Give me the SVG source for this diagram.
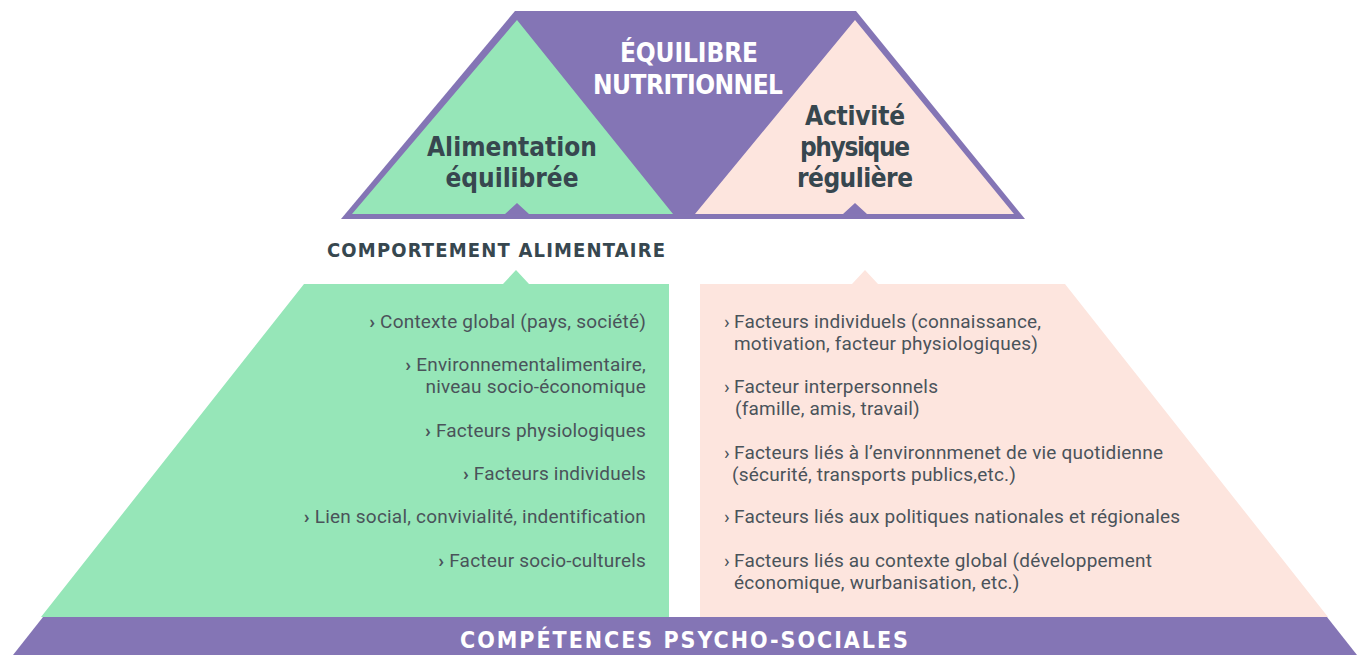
<svg xmlns="http://www.w3.org/2000/svg" width="1363" height="655" viewBox="0 0 1363 655">
  <style>
    .purple { fill: #8475b5; }
    .green { fill: #96e6b8; }
    .pink { fill: #fde5de; }
    .head { font-family: "DejaVu Sans Condensed", "DejaVu Sans", sans-serif; font-stretch: condensed; font-weight: bold; }
    .white { fill: #ffffff; }
    .dark { fill: #37474f; }
    .item { font-family: Roboto, "Liberation Sans", sans-serif; font-size: 19px; letter-spacing: 0.2px; fill: #4a535a; }
    .bul { font-weight: bold; }
  </style>
  <rect width="1363" height="655" fill="#ffffff"/>

  <!-- top: nutritional balance -->
  <g id="equilibre">
    <polygon class="purple" points="515,11 856,11 1025,219 341,219"/>
    <text class="head white" font-size="26" text-anchor="middle" x="689" y="62" textLength="138" lengthAdjust="spacing">ÉQUILIBRE</text>
    <text class="head white" font-size="26" text-anchor="middle" x="688" y="94" textLength="190" lengthAdjust="spacing">NUTRITIONNEL</text>
  </g>

  <g id="alimentation">
    <polygon class="green" points="517,20 673,214 529,214 517,203 505,214 352,214"/>
    <text class="head dark" font-size="26" text-anchor="middle" x="512" y="156" textLength="170" lengthAdjust="spacing">Alimentation</text>
    <text class="head dark" font-size="26" text-anchor="middle" x="512" y="187" textLength="133" lengthAdjust="spacing">équilibrée</text>
  </g>

  <g id="activite">
    <polygon class="pink" points="855,20 1014,214 867,214 855,203 843,214 695,214"/>
    <text class="head dark" font-size="26" text-anchor="middle" x="855" y="125" textLength="100" lengthAdjust="spacing">Activité</text>
    <text class="head dark" font-size="26" text-anchor="middle" x="855" y="156" textLength="110" lengthAdjust="spacing">physique</text>
    <text class="head dark" font-size="26" text-anchor="middle" x="855" y="187" textLength="116" lengthAdjust="spacing">régulière</text>
  </g>

  <!-- section title -->
  <g id="comportement">
    <text class="head dark" font-size="20" x="327" y="257" textLength="338" lengthAdjust="spacing">COMPORTEMENT ALIMENTAIRE</text>
  </g>

  <!-- lower left: food-related factors -->
  <g id="facteurs-alimentaires">
    <polygon class="green" points="304,284 503,284 516,270 529,284 669,284 669,617 41,617"/>
    <g class="item" text-anchor="end">
      <text x="646" y="328"><tspan class="bul">› </tspan>Contexte global (pays, société)</text>
      <text x="646" y="371"><tspan class="bul">› </tspan>Environnementalimentaire,</text>
      <text x="646" y="393">niveau socio-économique</text>
      <text x="646" y="437"><tspan class="bul">› </tspan>Facteurs physiologiques</text>
      <text x="646" y="480"><tspan class="bul">› </tspan>Facteurs individuels</text>
      <text x="646" y="523"><tspan class="bul">› </tspan>Lien social, convivialité, indentification</text>
      <text x="646" y="567"><tspan class="bul">› </tspan>Facteur socio-culturels</text>
    </g>
  </g>

  <!-- lower right: activity-related factors -->
  <g id="facteurs-activite">
    <polygon class="pink" points="700,284 852,284 865,270 878,284 1065,284 1328,617 700,617"/>
    <g class="item">
      <text x="724" y="328">›</text>
      <text x="734" y="328">Facteurs individuels (connaissance,</text>
      <text x="734" y="350">motivation, facteur physiologiques)</text>
      <text x="724" y="393">›</text>
      <text x="734" y="393">Facteur interpersonnels</text>
      <text x="735" y="415">(famille, amis, travail)</text>
      <text x="724" y="459">›</text>
      <text x="734" y="459">Facteurs liés à l’environnmenet de vie quotidienne</text>
      <text x="732" y="481">(sécurité, transports publics,etc.)</text>
      <text x="724" y="523">›</text>
      <text x="734" y="523">Facteurs liés aux politiques nationales et régionales</text>
      <text x="724" y="567">›</text>
      <text x="734" y="567">Facteurs liés au contexte global (développement</text>
      <text x="734" y="589">économique, wurbanisation, etc.)</text>
    </g>
  </g>

  <!-- base band -->
  <g id="competences">
    <polygon class="purple" points="43,617 1327,617 1357,655 13,655"/>
    <text class="head white" font-size="23" x="460" y="648" textLength="448" lengthAdjust="spacing">COMPÉTENCES PSYCHO-SOCIALES</text>
  </g>
</svg>
